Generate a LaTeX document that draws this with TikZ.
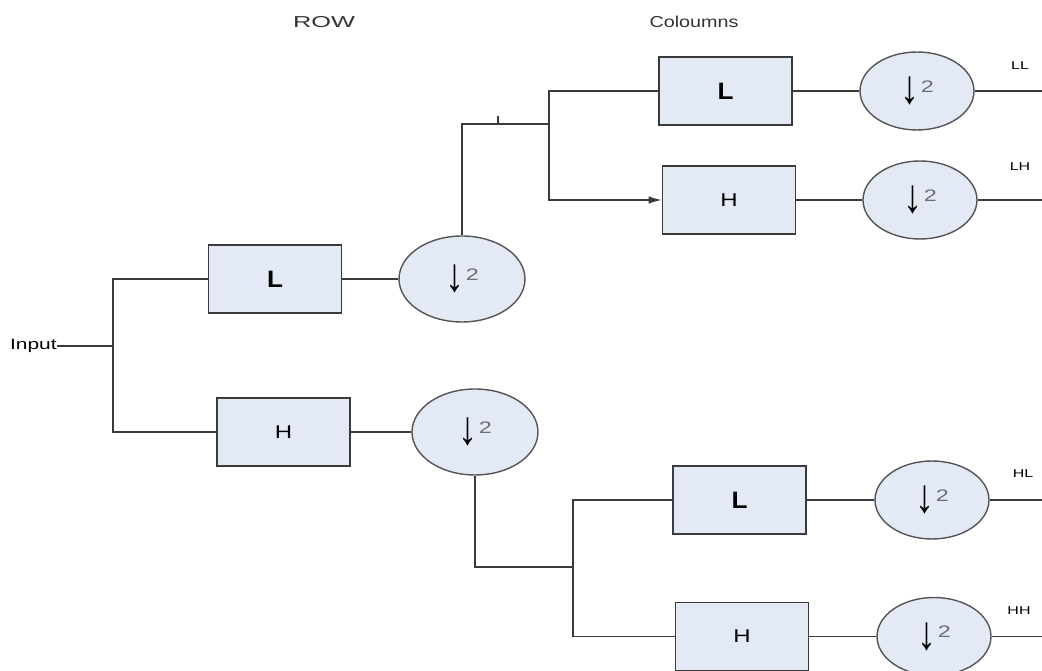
\documentclass[tikz,border=0pt]{standalone}
\usepackage{fontspec}
\setmainfont{Liberation Sans}
\usepackage{graphicx}
\usetikzlibrary{arrows.meta,shapes.geometric}
\definecolor{boxfill}{HTML}{E3E9F5}
\definecolor{edge}{HTML}{3A3A3A}
\definecolor{ringedge}{HTML}{555555}
\definecolor{digit}{HTML}{6E6E6E}
% wide lettering
\newcommand{\wide}[2][1.45]{\scalebox{#1}[1]{#2}}
% down-sampling symbol
\newcommand{\dsym}{\scalebox{0.8}[1]{\fontsize{27}{27}\selectfont ↓}\hspace{1pt}\raisebox{6.5pt}{\textcolor{digit}{\wide[1.4]{\fontsize{9.5}{9.5}\selectfont 2}}}\hspace{7pt}}
\begin{document}
\begin{tikzpicture}[x=0.02cm,y=-0.02cm,
  wire/.style={draw=edge,line width=0.8pt},
  filterbox/.style={draw=edge,fill=boxfill,line width=0.9pt,minimum width=2.66cm,minimum height=1.36cm,inner sep=0pt},
  ring/.style={ellipse,draw=ringedge,fill=boxfill,line width=0.8pt,inner sep=0pt},
  bigring/.style={ring,minimum width=2.52cm,minimum height=1.72cm},
  smallring/.style={ring,minimum width=2.28cm,minimum height=1.56cm},
  title/.style={font=\fontsize{9}{9}\selectfont,text=black!80,inner sep=0pt},
  outlabel/.style={font=\fontsize{6.5}{7}\selectfont,inner sep=0pt},
  lowlab/.style={font=\fontsize{13.5}{13.5}\selectfont\bfseries},
  highlab/.style={font=\fontsize{10.5}{10.5}\selectfont},
]
\clip (0,0) rectangle (1042,671);
\useasboundingbox (0,0) rectangle (1042,671);

% headings
\node[title] (trow) at (324,22) {\wide[1.6]{ROW}};
\node[title] (tcol) at (694,22) {\wide[1.25]{Coloumns}};

% row stage
\node[inner sep=0pt,anchor=east,font=\fontsize{8.5}{9}\selectfont] (in) at (57,346) {\wide[1.4]{Input}};
\node[filterbox,lowlab] (L1) at (275,279) {\wide[1.1]{L}};
\node[filterbox,highlab] (H1) at (283.5,432) {\wide[1.3]{H}};
\node[bigring] (D1) at (462,279) {\dsym};
\node[bigring] (D2) at (475,432) {\dsym};

% column stage, upper branch
\node[filterbox,lowlab] (L2) at (725.5,91) {\wide[1.1]{L}};
\node[filterbox,highlab] (H2) at (729,200) {\wide[1.3]{H}};
\node[smallring] (D3) at (917,91) {\dsym};
\node[smallring] (D4) at (920,200) {\dsym};

% column stage, lower branch
\node[filterbox,lowlab] (L3) at (739.5,500) {\wide[1.1]{L}};
\node[filterbox,highlab] (H3) at (742,636.5) {\wide[1.3]{H}};
\node[smallring] (D5) at (932,500) {\dsym};
\node[smallring] (D6) at (934,636.5) {\dsym};

% output labels
\node[outlabel] (oLL) at (1020,66) {\wide[1.4]{LL}};
\node[outlabel] (oLH) at (1020,167) {\wide[1.4]{LH}};
\node[outlabel] (oHL) at (1023,474) {\wide[1.4]{HL}};
\node[outlabel] (oHH) at (1019,611) {\wide[1.4]{HH}};

% junction points
\coordinate (J0) at (113,346);
\coordinate (J1) at (549,124);
\coordinate (J2) at (573,567);
\coordinate (tk) at (498,124);
\coordinate (e1) at (1042,91);
\coordinate (e2) at (1042,200);
\coordinate (e3) at (1042,500);
\coordinate (e4) at (1042,636.5);

% connectors
\draw[wire] (in.east) -- (J0);
\draw[wire] (J0) |- (L1.west);
\draw[wire] (J0) |- (H1.west);
\draw[wire] (L1.east) -- (D1.west);
\draw[wire] (H1.east) -- (D2.west);

\draw[wire] (D1.north) |- (J1);
\draw[wire] (tk) -- ++(0,-8);
\draw[wire] (J1) |- (L2.west);
\draw[wire,-{Latex[length=2.6mm,width=1.5mm]}] (J1) |- (H2.west);
\draw[wire] (L2.east) -- (D3.west);
\draw[wire] (H2.east) -- (D4.west);
\draw[wire] (D3.east) -- (e1);
\draw[wire] (D4.east) -- (e2);

\draw[wire] (D2.south) |- (J2);
\draw[wire] (J2) |- (L3.west);
\draw[wire] (J2) |- (H3.west);
\draw[wire] (L3.east) -- (D5.west);
\draw[wire] (H3.east) -- (D6.west);
\draw[wire] (D5.east) -- (e3);
\draw[wire] (D6.east) -- (e4);
\end{tikzpicture}
\end{document}
